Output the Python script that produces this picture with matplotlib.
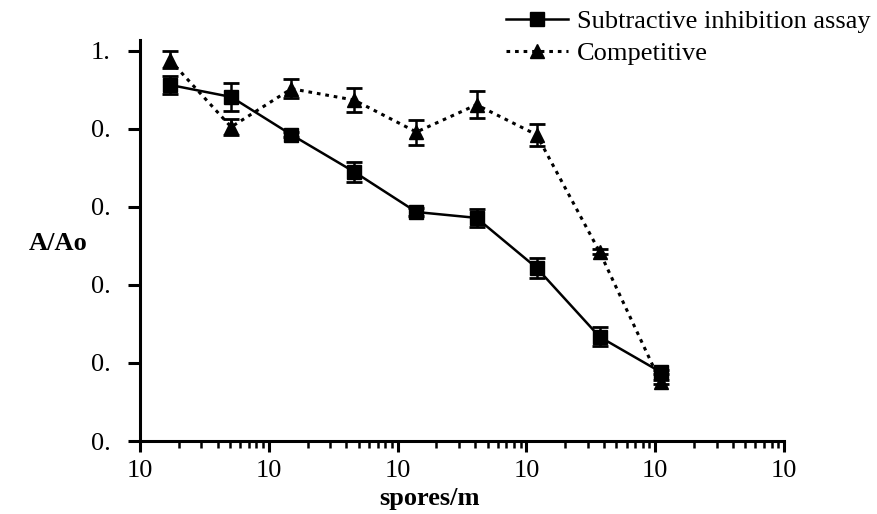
import numpy as np
import matplotlib
matplotlib.use("Agg")
import matplotlib.pyplot as plt
from matplotlib.lines import Line2D
from matplotlib.ticker import LogLocator, FixedLocator, FixedFormatter, NullFormatter

# -----------------------------------
# Data
# -----------------------------------
spores = [1.7e2, 5.1e2, 1.5e3, 4.6e3, 1.4e4, 4.1e4, 1.2e5, 3.7e5, 1.1e6]

subtractive = [0.913, 0.882, 0.785, 0.690, 0.587, 0.572, 0.444, 0.267, 0.177]
subtractive_err = [0.023, 0.036, 0.006, 0.026, 0.010, 0.024, 0.026, 0.024, 0.005]

competitive = [0.977, 0.805, 0.903, 0.874, 0.792, 0.862, 0.785, 0.485, 0.151]
competitive_err = [0.022, 0.020, 0.024, 0.030, 0.032, 0.035, 0.028, 0.006, 0.006]

y_ticks = [0.0, 0.2, 0.4, 0.6, 0.8, 1.0]
y_tick_labels = ["0.", "0.", "0.", "0.", "0.", "1."]
x_decades = [1e2, 1e3, 1e4, 1e5, 1e6, 1e7]

# -----------------------------------
# Style
# -----------------------------------
plt.rcParams["font.family"] = ["Liberation Serif", "DejaVu Serif"]
plt.rcParams["font.size"] = 19

fig = plt.figure(figsize=(8.77, 5.14), dpi=100)
ax = fig.add_axes([140 / 877, 1 - 441 / 514, 644 / 877, 401 / 514])

# -----------------------------------
# Plot
# -----------------------------------
sub_style = dict(color="black", linestyle="-", linewidth=1.8, marker="s", markersize=10)
comp_style = dict(color="black", linestyle=(0, (1.2, 1.6)), linewidth=2.2, marker="^", markersize=10)

ax.errorbar(
    spores, subtractive, yerr=subtractive_err,
    capsize=5.5, capthick=2, elinewidth=1.8, zorder=3, **sub_style
)

ax.errorbar(
    spores, competitive, yerr=competitive_err,
    capsize=5.5, capthick=2, elinewidth=1.8, zorder=3, **comp_style
)

# -----------------------------------
# Axes
# -----------------------------------
ax.set_xscale("log")
ax.set_xlim(x_decades[0], x_decades[-1])
ax.set_ylim(0, 1.028)

ax.xaxis.set_major_locator(FixedLocator(x_decades))
ax.xaxis.set_major_formatter(FixedFormatter(["10"] * len(x_decades)))
ax.xaxis.set_minor_locator(LogLocator(base=10, subs=np.arange(2, 10), numticks=50))
ax.xaxis.set_minor_formatter(NullFormatter())

ax.yaxis.set_major_locator(FixedLocator(y_ticks))
ax.yaxis.set_major_formatter(FixedFormatter(y_tick_labels))

for side in ["top", "right"]:
    ax.spines[side].set_visible(False)
for side in ["left", "bottom"]:
    ax.spines[side].set_linewidth(2.2)

ax.tick_params(axis="x", which="major", direction="out", length=8, width=2.2, pad=6)
ax.tick_params(axis="x", which="minor", direction="out", length=5, width=1.8)
ax.tick_params(axis="y", which="major", direction="out", length=9, width=2.2, pad=12)

ax.set_xlabel("spores/m", fontweight="bold")
ax.xaxis.set_label_coords((430 - 140) / 644, -0.115)
ax.set_ylabel("A/Ao", fontweight="bold", rotation=0, va="center", ha="center")
ax.yaxis.set_label_coords((58 - 140) / 644, (441 - 244) / 401)

# -----------------------------------
# Legend
# -----------------------------------
handles = [
    Line2D([], [], **sub_style),
    Line2D([], [], **comp_style),
]
labels = ["Subtractive inhibition assay", "Competitive"]
fig.legend(
    handles, labels,
    loc="upper left", bbox_to_anchor=(506 / 877, 1 - 10 / 514),
    frameon=False, borderpad=0, borderaxespad=0,
    handlelength=2.35, handletextpad=0.33, labelspacing=0.3
)

fig.savefig("out.png", dpi=100)
